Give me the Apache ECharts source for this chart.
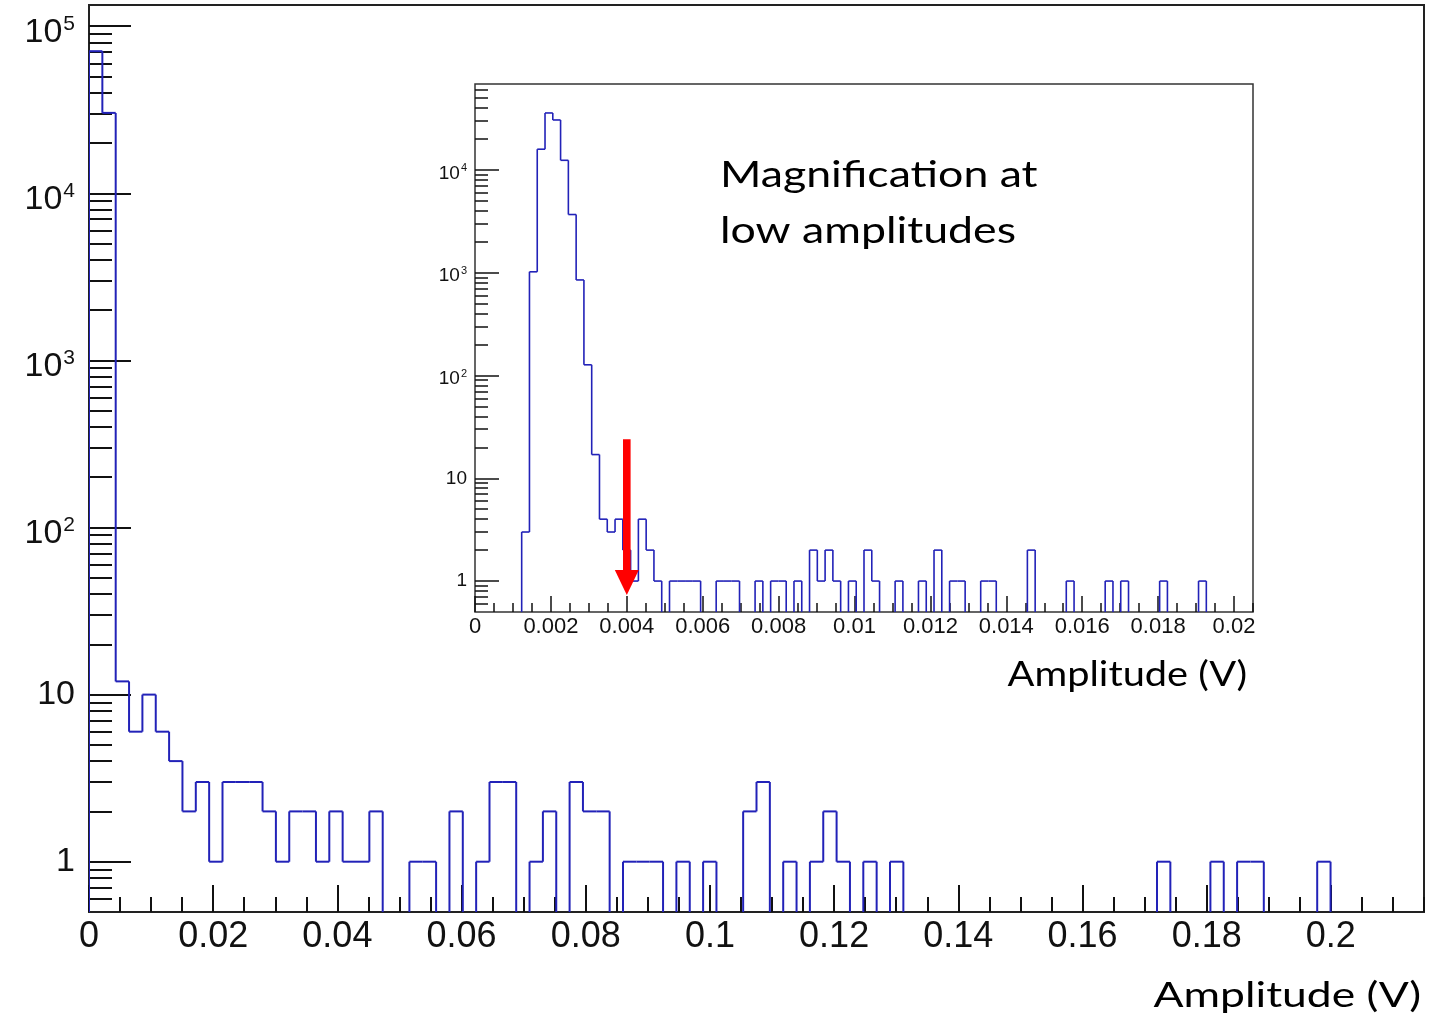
<!DOCTYPE html>
<html>
<head>
<meta charset="utf-8">
<script src="https://cdn.jsdelivr.net/npm/echarts@6.0.0/dist/echarts.min.js"></script>
<style>
  html, body { margin: 0; padding: 0; background: #fff; }
  #chart { width: 1448px; height: 1020px; }
</style>
</head>
<body>
<div id="chart"></div>
<script>
// Pulse amplitude spectrum, full range: 100 bins over 0 – 0.215 V
const mainRange = [0, 0.215];
const mainCounts = [
  70900, 30300, 12, 6, 10, 6, 4, 2, 3, 1,
  3, 3, 3, 2, 1, 2, 2, 1, 2, 1,
  1, 2, 0, 0, 1, 1, 0, 2, 0, 1,
  3, 3, 0, 1, 2, 0, 3, 2, 2, 0,
  1, 1, 1, 0, 1, 0, 1, 0, 0, 2,
  3, 0, 1, 0, 1, 2, 1, 0, 1, 0,
  1, 0, 0, 0, 0, 0, 0, 0, 0, 0,
  0, 0, 0, 0, 0, 0, 0, 0, 0, 0,
  1, 0, 0, 0, 1, 0, 1, 1, 0, 0,
  0, 0, 1, 0, 0, 0, 0, 0, 0, 0
];

// Low-amplitude close-up: 100 bins over 0 – 0.0205 V
const insetRange = [0, 0.0205];
const insetCounts = [
  0, 0, 0, 0, 0, 0, 3, 1020, 15900, 35800,
  30600, 12400, 3680, 850, 127, 17, 4, 3, 4, 2,
  1, 4, 2, 1, 0, 1, 1, 1, 1, 0,
  0, 1, 1, 1, 0, 0, 1, 0, 1, 1,
  0, 1, 0, 2, 1, 2, 1, 0, 1, 0,
  2, 1, 0, 0, 1, 0, 0, 1, 0, 2,
  0, 1, 1, 0, 0, 1, 1, 0, 0, 0,
  0, 2, 0, 0, 0, 0, 1, 0, 0, 0,
  0, 1, 0, 1, 0, 0, 0, 0, 1, 0,
  0, 0, 0, 1, 0, 0, 0, 0, 0, 0
];

// Axis ticks and labels
const mainXTicks = [0, 0.02, 0.04, 0.06, 0.08, 0.1, 0.12, 0.14, 0.16, 0.18, 0.2];
const mainXMinorStep = 0.005;
const insetXTicks = [0, 0.002, 0.004, 0.006, 0.008, 0.01, 0.012, 0.014, 0.016, 0.018, 0.02];
const insetXMinorStep = 0.0005;
const mainYRange = [0.5, 134000];
const mainYTicks = [1, 10, 100, 1000, 10000, 100000];
const insetYRange = [0.5, 68500];
const insetYTicks = [1, 10, 100, 1000, 10000];

// Threshold marker in the close-up (amplitude, top count, tip count)
const markerAmplitude = 0.004;
const markerFrom = 24;
const markerTo = 0.73;

const axisFont = 'Liberation Sans, Arial, Helvetica, sans-serif';
const noteFont = 'Lato, Carlito, Calibri, sans-serif';
const histColor = '#2222b8';

function minorLinear(range, step, majors) {
  const out = [];
  const n = Math.round((range[1] - range[0]) / step);
  for (let i = 0; i <= n; i++) {
    const v = +(range[0] + i * step).toFixed(6);
    if (v > range[1]) break;
    if (!majors.some(m => Math.abs(m - v) < step / 10)) out.push(v);
  }
  return out;
}

function minorLog(range) {
  const out = [];
  const lo = Math.floor(Math.log10(range[0]));
  const hi = Math.ceil(Math.log10(range[1]));
  for (let e = lo; e <= hi; e++) {
    for (let k = 2; k <= 9; k++) {
      const v = k * Math.pow(10, e);
      if (v > range[0] && v < range[1]) out.push(v);
    }
  }
  return out;
}

function binData(range, counts) {
  const w = (range[1] - range[0]) / counts.length;
  return counts.map((c, i) => [
    range[0] + i * w,
    range[0] + (i + 1) * w,
    c,
    i ? counts[i - 1] : 0,
    i === counts.length - 1 ? 1 : 0
  ]);
}

// ROOT-style step outline; empty bins drop to the bottom of the frame
function histRenderer(yMin, lineWidth) {
  return function (params, api) {
    const x0 = api.value(0), x1 = api.value(1);
    const cnt = api.value(2), prev = api.value(3);
    const c = Math.max(cnt, yMin), p = Math.max(prev, yMin);
    const children = [];
    const style = { stroke: histColor, lineWidth: lineWidth, fill: null };
    if (cnt !== prev) {
      const a = api.coord([x0, p]), b = api.coord([x0, c]);
      children.push({ type: 'line', shape: { x1: a[0], y1: a[1], x2: b[0], y2: b[1] }, style });
    }
    if (cnt > 0) {
      const a = api.coord([x0, c]), b = api.coord([x1, c]);
      children.push({ type: 'line', shape: { x1: a[0], y1: a[1], x2: b[0], y2: b[1] }, style });
      if (api.value(4)) {
        const d = api.coord([x1, yMin]);
        children.push({ type: 'line', shape: { x1: b[0], y1: b[1], x2: d[0], y2: d[1] }, style });
      }
    }
    return { type: 'group', children };
  };
}

function powLabel(v) {
  const e = Math.round(Math.log10(v));
  if (e === 0) return '{p|1}';
  if (e === 1) return '{p|10}';
  return '{b|10}{s|' + e + '}';
}

function fmtLinear(v) {
  return String(+(+v).toFixed(5));
}

function xAxisPair(gridIndex, range, majors, minorStep, opts) {
  const common = {
    type: 'value', gridIndex, min: range[0], max: range[1], position: 'bottom',
    axisLine: { show: false }, splitLine: { show: false }
  };
  return [
    Object.assign({}, common, {
      axisTick: { show: true, inside: true, length: opts.majorLen, customValues: majors,
        lineStyle: { color: '#111', width: opts.tickWidth } },
      axisLabel: { show: true, customValues: majors, formatter: fmtLinear, margin: opts.margin,
        color: '#111', fontSize: opts.fontSize, fontFamily: axisFont }
    }),
    Object.assign({}, common, {
      axisTick: { show: true, inside: true, length: opts.minorLen,
        customValues: minorLinear(range, minorStep, majors),
        lineStyle: { color: '#111', width: opts.tickWidth } },
      axisLabel: { show: false }
    })
  ];
}

function yAxisPair(gridIndex, range, majors, opts) {
  const common = {
    type: 'log', logBase: 10, gridIndex, min: range[0], max: range[1], position: 'left',
    axisLine: { show: false }, splitLine: { show: false }
  };
  const f = opts.fontSize;
  return [
    Object.assign({}, common, {
      axisTick: { show: true, inside: true, length: opts.majorLen, customValues: majors,
        lineStyle: { color: '#111', width: opts.tickWidth } },
      axisLabel: { show: true, customValues: majors, formatter: powLabel, margin: opts.margin,
        color: '#111', fontFamily: axisFont,
        rich: {
          p: { fontSize: f, lineHeight: Math.round(f * 1.1), fontFamily: axisFont, color: '#111' },
          b: { fontSize: f, lineHeight: Math.round(f * 1.1), padding: [Math.round(f * 0.36), 0, 0, 0],
               fontFamily: axisFont, color: '#111' },
          s: { fontSize: opts.supSize, lineHeight: opts.supSize, verticalAlign: 'top',
               padding: [Math.round(f * 0.18), 0, 0, 1], fontFamily: axisFont, color: '#111' }
        } }
    }),
    Object.assign({}, common, {
      axisTick: { show: true, inside: true, length: opts.minorLen, customValues: minorLog(range),
        lineStyle: { color: '#111', width: opts.tickWidth } },
      axisLabel: { show: false }
    })
  ];
}

const chart = echarts.init(document.getElementById('chart'), null, { renderer: 'canvas' });

const option = {
  animation: false,
  backgroundColor: '#fff',
  grid: [
    { left: 89, top: 5, width: 1335, height: 907, show: true,
      borderColor: '#222', borderWidth: 2, backgroundColor: '#fff', containLabel: false },
    { left: 475, top: 84, width: 778, height: 528, show: true,
      borderColor: '#333', borderWidth: 1.5, backgroundColor: '#fff', containLabel: false }
  ],
  xAxis: [
    ...xAxisPair(0, mainRange, mainXTicks, mainXMinorStep,
      { majorLen: 27, minorLen: 15, tickWidth: 2, margin: 7, fontSize: 36 }),
    ...xAxisPair(1, insetRange, insetXTicks, insetXMinorStep,
      { majorLen: 16, minorLen: 9, tickWidth: 1.5, margin: 4, fontSize: 22 })
  ],
  yAxis: [
    ...yAxisPair(0, mainYRange, mainYTicks,
      { majorLen: 42, minorLen: 23, tickWidth: 2, margin: 14, fontSize: 34, supSize: 21 }),
    ...yAxisPair(1, insetYRange, insetYTicks,
      { majorLen: 24, minorLen: 13, tickWidth: 1.5, margin: 8, fontSize: 19, supSize: 11 })
  ],
  series: [
    {
      type: 'custom', name: 'full range', xAxisIndex: 0, yAxisIndex: 0, clip: true,
      renderItem: histRenderer(mainYRange[0], 2),
      encode: { x: [0, 1], y: 2 },
      data: binData(mainRange, mainCounts), z: 3
    },
    {
      type: 'custom', name: 'low amplitudes', xAxisIndex: 2, yAxisIndex: 2, clip: true,
      renderItem: histRenderer(insetYRange[0], 1.6),
      encode: { x: [0, 1], y: 2 },
      data: binData(insetRange, insetCounts), z: 3
    },
    {
      type: 'custom', name: 'marker', xAxisIndex: 2, yAxisIndex: 2, clip: false,
      renderItem: function (params, api) {
        const top = api.coord([api.value(0), api.value(1)]);
        const tip = api.coord([api.value(0), api.value(2)]);
        const headLen = 25, headHalf = 12, shaftHalf = 3.8;
        const base = tip[1] - headLen;
        return {
          type: 'group',
          children: [
            { type: 'rect', shape: { x: top[0] - shaftHalf, y: top[1], width: shaftHalf * 2, height: base - top[1] + 1 },
              style: { fill: '#ff0000' } },
            { type: 'polygon', shape: { points: [[tip[0] - headHalf, base], [tip[0] + headHalf, base], [tip[0], tip[1]]] },
              style: { fill: '#ff0000' } }
          ]
        };
      },
      encode: { x: 0, y: 1 },
      data: [[markerAmplitude, markerFrom, markerTo]], z: 10
    }
  ],
  graphic: [
    { type: 'text', x: 720, y: 175, scaleX: 1.24, z: 20,
      style: { text: 'Magnification at', font: '36px ' + noteFont, fill: '#000',
               align: 'left', verticalAlign: 'middle' } },
    { type: 'text', x: 720, y: 231, scaleX: 1.24, z: 20,
      style: { text: 'low amplitudes', font: '36px ' + noteFont, fill: '#000',
               align: 'left', verticalAlign: 'middle' } },
    { type: 'text', x: 1247, y: 675, scaleX: 1.17, z: 20,
      style: { text: 'Amplitude (V)', font: '34px ' + noteFont, fill: '#000',
               align: 'right', verticalAlign: 'middle' } },
    { type: 'text', x: 1421, y: 996, scaleX: 1.27, z: 20,
      style: { text: 'Amplitude (V)', font: '35px ' + noteFont, fill: '#000',
               align: 'right', verticalAlign: 'middle' } }
  ]
};

chart.setOption(option);
</script>
</body>
</html>
